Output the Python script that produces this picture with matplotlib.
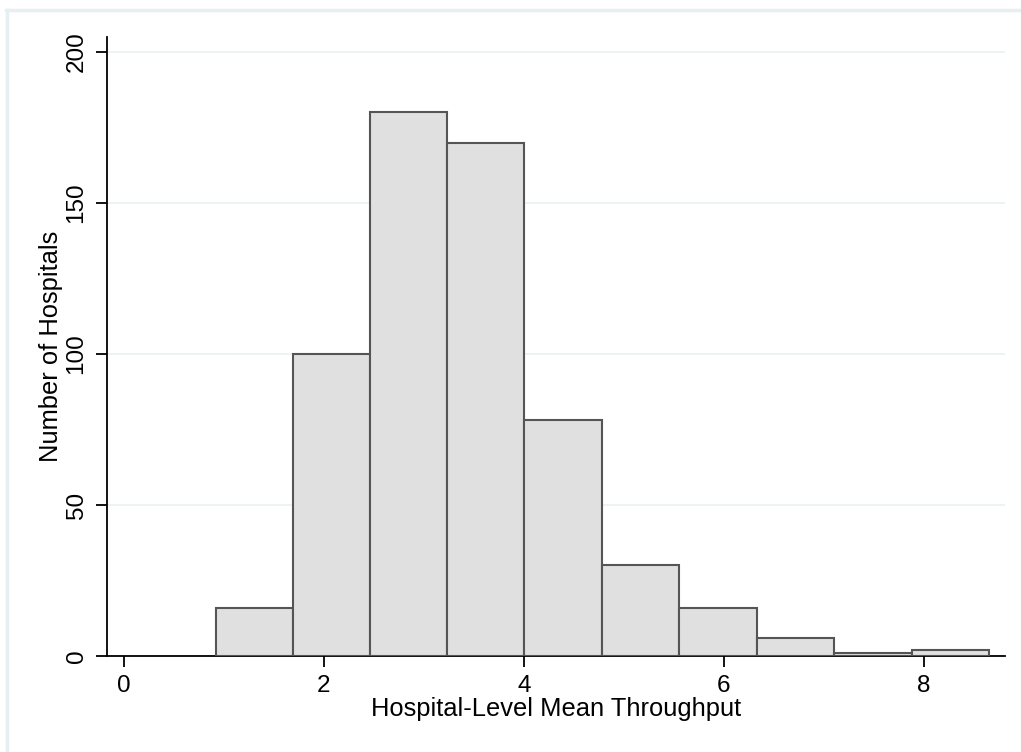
import matplotlib
matplotlib.use("Agg")
import matplotlib.pyplot as plt
from matplotlib.lines import Line2D

# ---- data ----
bin_edges = [0.92, 1.69, 2.46, 3.23, 4.00, 4.78, 5.55, 6.33, 7.10, 7.88, 8.65]
counts = [16, 100, 180, 170, 78, 30, 16, 6, 1, 2]
x_ticks = [0, 2, 4, 6, 8]
y_ticks = [0, 50, 100, 150, 200]

plt.rcParams["font.family"] = ["Liberation Sans", "DejaVu Sans"]

W, H = 1021, 752
fig = plt.figure(figsize=(W / 100, H / 100), dpi=100)
fig.patch.set_facecolor("white")

# thin light frame on top and left edge (as in the screenshot)
frame_col = "#e6eff1"
fig.lines.append(Line2D([6 / W, 1.0], [1 - 9.5 / H, 1 - 9.5 / H], transform=fig.transFigure,
                        color=frame_col, linewidth=2.5))
fig.lines.append(Line2D([6.5 / W, 6.5 / W], [0.0, 1 - 9.5 / H], transform=fig.transFigure,
                        color=frame_col, linewidth=2.5))

ax = fig.add_axes([107 / W, 1 - 656 / H, (1005 - 107) / W, (656 - 37) / H])
ax.set_facecolor("white")

widths = [bin_edges[i + 1] - bin_edges[i] for i in range(len(counts))]
ax.bar(bin_edges[:-1], counts, width=widths, align="edge",
       facecolor="#e0e0e0", edgecolor="#555555", linewidth=1.5, zorder=3)

ax.set_xlim(-0.17, 8.81)
ax.set_ylim(0, 205)
ax.set_xticks(x_ticks)
ax.set_yticks(y_ticks)
ax.set_yticklabels([str(v) for v in y_ticks], rotation=90, va="center")

ax.grid(axis="y", color="#eaf1f3", linewidth=1.2, zorder=0)
ax.set_axisbelow(True)

for s in ["top", "right"]:
    ax.spines[s].set_visible(False)
for s in ["left", "bottom"]:
    ax.spines[s].set_linewidth(1.3)
    ax.spines[s].set_color("black")

ax.tick_params(axis="both", length=8, width=1.3, labelsize=17.5, color="black")
ax.tick_params(axis="y", pad=6)
ax.tick_params(axis="x", pad=6)

ax.set_xlabel("Hospital-Level Mean Throughput", fontsize=18.4, labelpad=0)
ax.set_ylabel("Number of Hospitals", fontsize=18.4, labelpad=2)

fig.savefig("out.png", dpi=100)
